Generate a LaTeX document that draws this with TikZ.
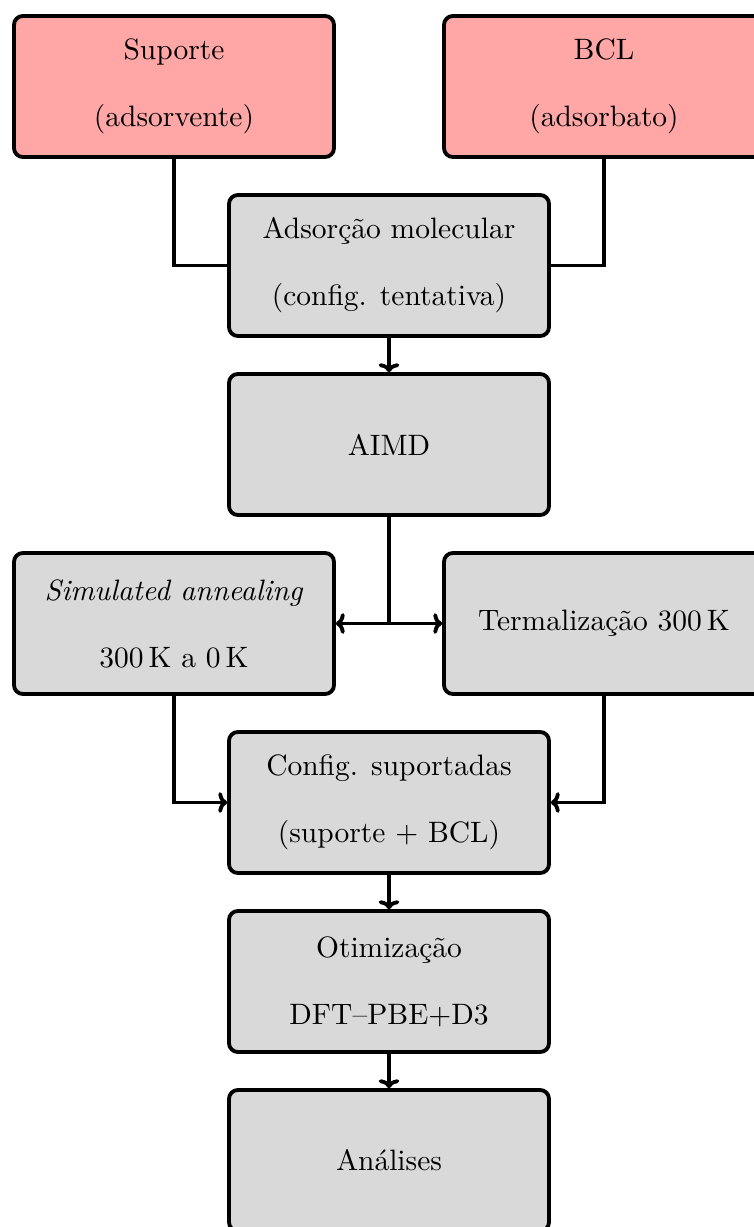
\documentclass[tikz,border=0pt]{standalone}
\usepackage{fontspec}
\usetikzlibrary{arrows.meta}
\tikzset{
  box/.style={draw, line width=1.3pt, rounded corners=3pt, minimum width=320*0.339pt, minimum height=141*0.339pt, align=center, inner sep=0pt, font=\fontsize{10}{22.7}\selectfont},
  redbox/.style={box, fill=red!35},
  graybox/.style={box, fill=gray!30},
  conn/.style={line width=1.3pt},
  arr/.style={conn, -{To[length=3pt,width=7pt]}}
}
\begin{document}
\begin{tikzpicture}[x=0.339pt,y=-0.339pt]
\useasboundingbox (0,0) rectangle (754,1227);
\node[redbox] (sup) at (174,86.5) {Suporte\\(adsorvente)};
\node[redbox] (bcl) at (604,86.5) {BCL\\(adsorbato)};
\node[graybox] (ads) at (389,265.5) {Adsorção molecular\\(config. tentativa)};
\node[graybox] (aimd) at (389,444.5) {AIMD};
\node[graybox] (sim) at (174,623.5) {\textit{Simulated annealing}\\300\,K a 0\,K};
\node[graybox] (ter) at (604,623.5) {Termalização 300\,K};
\node[graybox] (conf) at (389,802.5) {Config. suportadas\\(suporte + BCL)};
\node[graybox] (oti) at (389,981.5) {Otimização\\DFT--PBE+D3};
\node[graybox] (ana) at (389,1160.5) {Análises};
\draw[conn] (sup.south) |- (ads.west);
\draw[conn] (bcl.south) |- (ads.east);
\draw[arr] (ads) -- (aimd);
\coordinate (split) at (aimd.south |- sim.east);
\draw[conn] (aimd.south) -- (split);
\draw[arr] (split) -- (sim.east);
\draw[arr] (split) -- (ter.west);
\draw[arr] (sim.south) |- (conf.west);
\draw[arr] (ter.south) |- (conf.east);
\draw[arr] (conf) -- (oti);
\draw[arr] (oti) -- (ana);
\end{tikzpicture}
\end{document}
